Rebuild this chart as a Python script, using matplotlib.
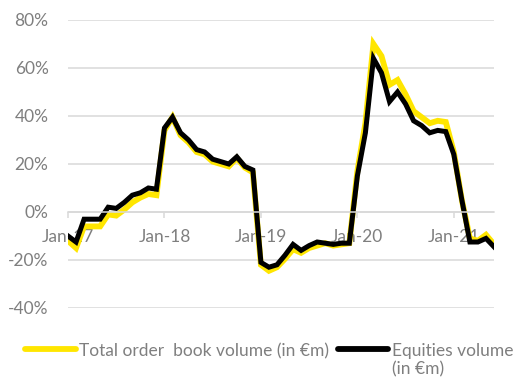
import numpy as np
import matplotlib
matplotlib.use("Agg")
import matplotlib.pyplot as plt

# Monthly growth rates, Jan-17 to Jun-21 (%)
months = np.arange(54)
tick_pos = [0, 12, 24, 36, 48]
tick_labels = ["Jan-17", "Jan-18", "Jan-19", "Jan-20", "Jan-21"]

order_book = [-12, -15, -6, -6, -6, -1, -1.5, 1, 4, 6, 7.5, 7,
              34, 39.5, 32, 29, 25, 24, 21, 20, 19, 22.5, 18.5, 16.5,
              -22, -24.5, -23, -19.5, -15.5, -17, -15, -14, -13, -14, -13.5, -13,
              17, 37, 70, 65, 53, 55, 49, 42, 39.5, 37, 38, 37.5,
              25, 5, -11, -12, -9.5, -13.5]
equities = [-10, -12.5, -3, -3, -3, 2, 1.5, 4, 7, 8, 10, 9.5,
            35, 39.5, 33, 30, 26, 25, 22, 21, 20, 23, 19, 17.5,
            -21, -23, -22, -18, -13.5, -16, -14, -12.5, -13, -13.5, -13, -13,
            15, 33, 64, 58, 46, 50, 45, 38, 36, 33, 34, 33.5,
            24, 5, -12.5, -12.5, -11, -14.5]

grey = "#7f7f7f"
grid_col = "#d9d9d9"

plt.rcParams['font.family'] = ['Lato', 'DejaVu Sans']
plt.rcParams['font.size'] = 12.5

fig = plt.figure(figsize=(5.15, 3.8), dpi=100)
ax = fig.add_axes([68 / 515, 1 - 308 / 380, 426 / 515, 288 / 380])

ax.plot(months, order_book, color="#ffe600", lw=4.2, solid_joinstyle="miter",
        label="Total order  book volume (in €m)")
ax.plot(months, equities, color="#000000", lw=3.6, solid_joinstyle="miter",
        label="Equities volume\n(in €m)")

ax.set_xlim(0, 53)
ax.set_ylim(-40, 80)
ax.set_yticks(np.arange(-40, 81, 20))
ax.set_yticklabels([f"{v}%" for v in range(-40, 81, 20)])
ax.set_xticks(tick_pos)
ax.set_xticklabels(tick_labels)

for s in ["top", "right", "left"]:
    ax.spines[s].set_visible(False)
ax.spines["bottom"].set_position(("data", 0))
ax.spines["bottom"].set_color(grid_col)
ax.spines["bottom"].set_linewidth(1.1)

ax.grid(axis="y", color=grid_col, lw=1.1)
ax.set_axisbelow(True)
ax.tick_params(axis="y", length=0, pad=14, labelcolor=grey)
ax.tick_params(axis="x", length=4, width=1.1, color=grid_col, pad=8,
               labelcolor=grey)

leg = ax.legend(loc="upper left", bbox_to_anchor=(-0.1, -0.122), ncol=2,
                frameon=False, handlelength=2.9, handletextpad=0.2,
                columnspacing=0.5, borderaxespad=0, borderpad=0)
# keep the line level with the first line of a wrapped label
leg._legend_handle_box.align = "top"
for col in leg._legend_handle_box.get_children():
    for row in col.get_children():
        row.align = "top"
for t in leg.get_texts():
    t.set_color(grey)
for h in leg.get_lines():
    h.set_linewidth(4.2)
    h.set_solid_capstyle("round")

fig.savefig("out.png", dpi=100)
